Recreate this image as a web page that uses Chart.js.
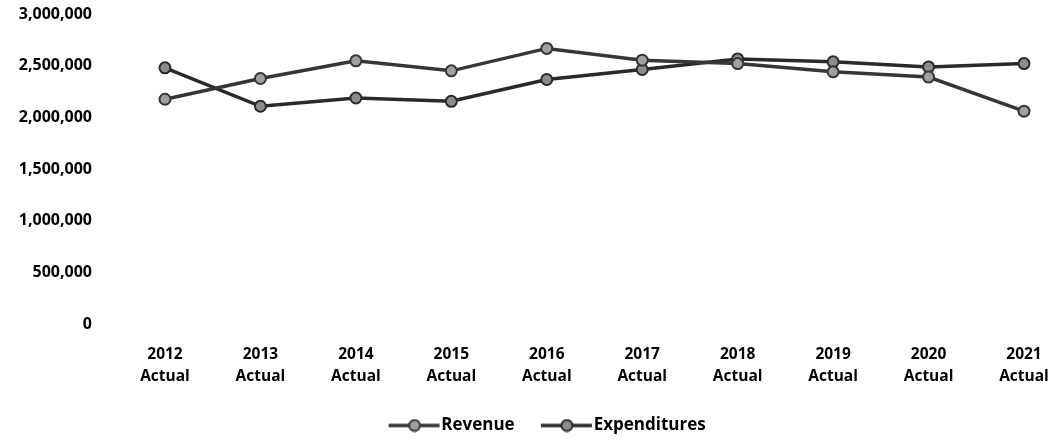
<!DOCTYPE html>
<html>
<head>
<meta charset="utf-8">
<script src="https://cdn.jsdelivr.net/npm/chart.js@4/dist/chart.umd.min.js"></script>
<style>
    html, body { margin: 0; padding: 0; background: #fff; }
    #wrap { width: 1055px; height: 441px; }
</style>
</head>
<body>
<div id="wrap"><canvas id="financeChart"></canvas></div>
<script>
const years = ['2012', '2013', '2014', '2015', '2016', '2017', '2018', '2019', '2020', '2021'];
const revenue = [2175000, 2376000, 2547000, 2450000, 2667000, 2553000, 2520000, 2440000, 2390000, 2060000];
const expenditures = [2479000, 2107000, 2187000, 2155000, 2366000, 2463000, 2565000, 2537000, 2488000, 2520000];
const yTicks = [0, 500000, 1000000, 1500000, 2000000, 2500000, 3000000];

const fontFamily = '"Open Sans", "Liberation Sans", sans-serif';

// line-with-circle image for the legend, blank on the left so items sit further apart
function legendMarker(lineColor, fillColor) {
    const c = document.createElement('canvas');
    c.width = 72;
    c.height = 14;
    const ctx = c.getContext('2d');
    ctx.strokeStyle = lineColor;
    ctx.lineWidth = 3.5;
    ctx.beginPath();
    ctx.moveTo(20, 7);
    ctx.lineTo(71, 7);
    ctx.stroke();
    ctx.beginPath();
    ctx.arc(46, 7, 5.5, 0, Math.PI * 2);
    ctx.fillStyle = fillColor;
    ctx.fill();
    ctx.lineWidth = 2;
    ctx.stroke();
    return c;
}

const series = [
    { label: 'Revenue', data: revenue, color: '#363636', fill: '#a0a0a0' },
    { label: 'Expenditures', data: expenditures, color: '#2a2a2a', fill: '#8c8c8c' }
];

// the legend sits a bit right of centre and low in the original
const shiftLegend = {
    id: 'shiftLegend',
    afterLayout(chart) {
        chart.legend.left += 25;
        chart.legend.right += 25;
        chart.legend.top += 3;
        chart.legend.bottom += 3;
    }
};

new Chart(document.getElementById('financeChart'), {
    type: 'line',
    data: {
        labels: years.map(y => [y, 'Actual']),
        datasets: series.map(s => ({
            label: s.label,
            data: s.data,
            borderColor: s.color,
            backgroundColor: s.fill,
            borderWidth: 3.5,
            pointRadius: 5.5,
            pointBorderWidth: 2,
            pointBorderColor: s.color,
            pointBackgroundColor: s.fill,
            tension: 0
        }))
    },
    plugins: [shiftLegend],
    options: {
        responsive: true,
        maintainAspectRatio: false,
        animation: false,
        layout: { padding: { top: 14, right: 31, bottom: 0, left: 8 } },
        plugins: {
            tooltip: { enabled: false },
            legend: {
                position: 'bottom',
                labels: {
                    usePointStyle: true,
                    pointStyleWidth: 56.5,
                    padding: 14,
                    color: '#000',
                    font: { family: fontFamily, size: 17, weight: 'bold' },
                    generateLabels(chart) {
                        return chart.data.datasets.map((ds, i) => ({
                            text: ds.label,
                            datasetIndex: i,
                            pointStyle: legendMarker(series[i].color, series[i].fill),
                            fillStyle: ds.backgroundColor,
                            strokeStyle: ds.borderColor,
                            lineWidth: 0,
                            fontColor: '#000',
                            hidden: false
                        }));
                    }
                }
            }
        },
        scales: {
            x: {
                offset: false,
                grid: { display: false },
                border: { display: false },
                afterFit(scale) {
                    scale.height = 76;
                    scale.paddingRight = 0;
                    scale.paddingLeft = 0;
                },
                ticks: {
                    color: '#000',
                    padding: 12,
                    maxRotation: 0,
                    autoSkip: false,
                    font: { family: fontFamily, size: 15.5, weight: 'bold', lineHeight: 1.42 }
                }
            },
            y: {
                min: 0,
                max: 3000000,
                afterBuildTicks(scale) {
                    scale.ticks = yTicks.map(v => ({ value: v }));
                },
                afterFit(scale) {
                    scale.width = 157;
                    scale.paddingTop = 0;
                    scale.paddingBottom = 0;
                },
                grid: { display: false },
                border: { display: false },
                ticks: {
                    color: '#000',
                    padding: 65,
                    font: { family: fontFamily, size: 16, weight: 'bold' },
                    callback: v => v.toLocaleString('en-US')
                }
            }
        }
    }
});
</script>
</body>
</html>
